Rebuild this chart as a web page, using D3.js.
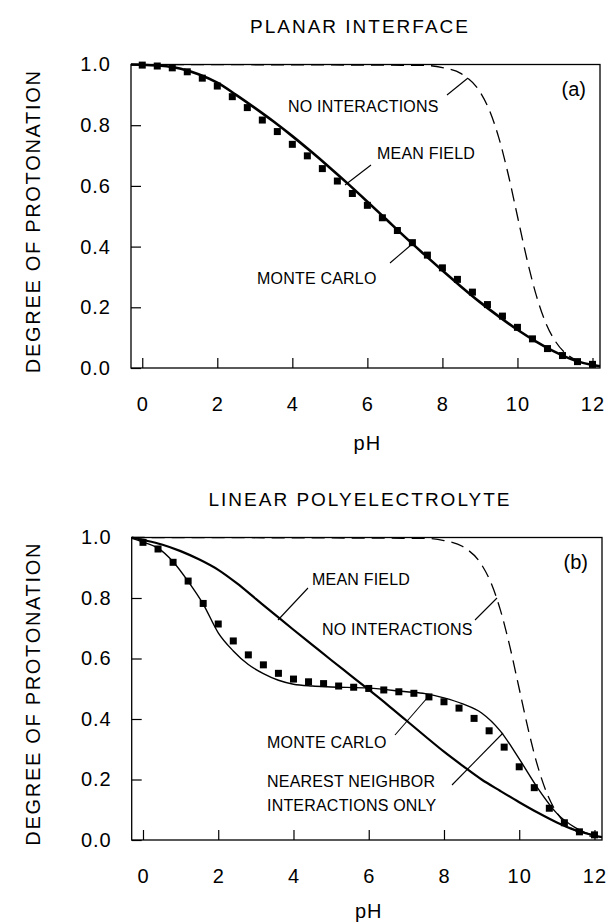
<!DOCTYPE html>
<html>
<head>
<meta charset="utf-8">
<script src="https://cdn.jsdelivr.net/npm/d3@7"></script>
<style>
  body { margin: 0; background: #fff; }
  svg text { font-family: "Liberation Sans", Arial, Helvetica, sans-serif; fill: #000; }
</style>
</head>
<body>
<svg id="chart" width="608" height="924"></svg>
<script>
// pH grid of the Monte Carlo points (same in both panels)
var mcPH = [0, 0.4, 0.8, 1.2, 1.6, 2.0, 2.4, 2.8, 3.2, 3.6, 4.0, 4.4, 4.8, 5.2, 5.6, 6.0,
            6.4, 6.8, 7.2, 7.6, 8.0, 8.4, 8.8, 9.2, 9.6, 10.0, 10.4, 10.8, 11.2, 11.6, 12.0];

// (a) planar interface
var mcA = [0.998, 0.995, 0.989, 0.976, 0.955, 0.929, 0.894, 0.858, 0.817, 0.779, 0.737, 0.699,
           0.657, 0.616, 0.575, 0.536, 0.495, 0.453, 0.413, 0.372, 0.330, 0.292, 0.250, 0.209,
           0.171, 0.134, 0.096, 0.064, 0.041, 0.021, 0.012];
var mfPH_A = [-0.3, 0, 0.5, 1, 1.5, 2, 2.5, 3, 3.5, 4, 4.5, 5, 5.5, 6, 6.5, 7, 7.5, 8, 8.5, 9,
              9.5, 10, 10.5, 11, 11.5, 12, 12.2];
var mfA = [1.0, 0.999, 0.996, 0.987, 0.968, 0.94, 0.9, 0.857, 0.812, 0.764, 0.713, 0.66, 0.605,
           0.548, 0.49, 0.432, 0.376, 0.321, 0.268, 0.217, 0.17, 0.126, 0.087, 0.053, 0.026, 0.01, 0.006];

// no interactions (same curve in both panels)
var niPH = [-0.3, 7.5, 8, 8.5, 9, 9.25, 9.5, 9.75, 10, 10.25, 10.5, 10.75, 11, 11.25, 11.5, 12];
var ni = [1.0, 0.997, 0.99, 0.97, 0.91, 0.85, 0.76, 0.64, 0.5, 0.36, 0.24, 0.15, 0.09, 0.052, 0.03, 0.01];

// (b) linear polyelectrolyte
var mcB = [0.984, 0.962, 0.918, 0.856, 0.782, 0.714, 0.658, 0.612, 0.579, 0.551, 0.532, 0.523,
           0.517, 0.509, 0.505, 0.501, 0.496, 0.490, 0.485, 0.473, 0.457, 0.436, 0.402, 0.361,
           0.307, 0.242, 0.173, 0.105, 0.057, 0.027, 0.017];
var mfPH_B = [-0.3, 0, 0.5, 1, 1.5, 2, 2.5, 3, 3.5, 4, 4.5, 5, 5.5, 6, 6.5, 7, 7.5, 8, 8.5, 9,
              9.5, 10, 10.5, 11, 11.5, 12, 12.2];
var mfB = [1.0, 0.992, 0.977, 0.955, 0.927, 0.893, 0.848, 0.797, 0.746, 0.695, 0.645, 0.595, 0.546,
           0.497, 0.447, 0.395, 0.343, 0.292, 0.245, 0.2, 0.162, 0.125, 0.09, 0.058, 0.032, 0.015, 0.01];
var nnPH = [-0.3, 0, 0.4, 0.8, 1.2, 1.6, 2.0, 2.4, 2.8, 3.2, 3.6, 4.0, 4.5, 5.0, 6.0, 7.0, 7.5,
            8.0, 8.5, 9.0, 9.5, 10.0, 10.5, 11.0, 11.5, 12.0, 12.2];
var nn = [0.997, 0.985, 0.965, 0.92, 0.855, 0.78, 0.685, 0.625, 0.58, 0.55, 0.528, 0.515, 0.509,
          0.506, 0.502, 0.49, 0.484, 0.47, 0.45, 0.42, 0.36, 0.268, 0.17, 0.088, 0.04, 0.014, 0.008];

var xTicks = [0, 2, 4, 6, 8, 10, 12];
var yTicks = [0, 0.2, 0.4, 0.6, 0.8, 1.0];

var svg = d3.select("#chart");

function zip(xs, ys) { return xs.map(function(x, i){ return [x, ys[i]]; }); }

function drawPanel(p) {
  var x = d3.scaleLinear().domain([-0.3, 12.2]).range([p.left, p.right]);
  var y = d3.scaleLinear().domain([0, 1]).range([p.bottom, p.top]);
  var g = svg.append("g");

  // frame
  g.append("rect").attr("x", p.left).attr("y", p.top)
    .attr("width", p.right - p.left).attr("height", p.bottom - p.top)
    .attr("fill", "none").attr("stroke", "#000").attr("stroke-width", 1.3);

  // axes, ticks point inward
  var xAxis = d3.axisBottom(x).tickValues(xTicks).tickSizeInner(-10).tickSizeOuter(0)
    .tickPadding(29).tickFormat(d3.format("d"));
  var gx = g.append("g").attr("transform", "translate(0," + p.bottom + ")").call(xAxis);
  var yAxis = d3.axisLeft(y).tickValues(yTicks).tickSizeInner(-10).tickSizeOuter(0)
    .tickPadding(20).tickFormat(d3.format(".1f"));
  var gy = g.append("g").attr("transform", "translate(" + p.left + ",0)").call(yAxis);
  [gx, gy].forEach(function(a){
    a.select(".domain").remove();
    a.selectAll(".tick line").attr("stroke", "#000").attr("stroke-width", 1.2);
    a.selectAll(".tick text").attr("font-size", 20).attr("letter-spacing", 1)
      .attr("font-family", "Liberation Sans, Arial, sans-serif");
  });

  var line = d3.line().x(function(d){ return x(d[0]); }).y(function(d){ return y(d[1]); })
    .curve(d3.curveMonotoneX);

  g.append("path").datum(zip(niPH, ni)).attr("d", line)
    .attr("fill", "none").attr("stroke", "#000").attr("stroke-width", 1.3)
    .attr("stroke-dasharray", "13,7");
  if (p.nn) {
    g.append("path").datum(zip(nnPH, nn)).attr("d", line)
      .attr("fill", "none").attr("stroke", "#000").attr("stroke-width", 1.4);
  }
  g.append("path").datum(zip(p.mfPH, p.mf)).attr("d", line)
    .attr("fill", "none").attr("stroke", "#000").attr("stroke-width", p.mfWidth);

  var s = 7;
  g.selectAll("rect.mc").data(zip(mcPH, p.mc)).enter().append("rect").attr("class", "mc")
    .attr("x", function(d){ return x(d[0]) - s / 2; })
    .attr("y", function(d){ return y(d[1]) - s / 2; })
    .attr("width", s).attr("height", s).attr("fill", "#000");

  // titles
  svg.append("text").attr("x", 360).attr("y", p.top - 32).attr("text-anchor", "middle")
    .attr("font-size", 19).attr("letter-spacing", 2).text(p.title);
  svg.append("text").attr("transform", "translate(40," + ((p.top + p.bottom) / 2 + 5) + ") rotate(-90)")
    .attr("text-anchor", "middle").attr("font-size", 20).attr("letter-spacing", 1.7)
    .text("DEGREE OF PROTONATION");
  svg.append("text").attr("x", x(6)).attr("y", p.bottom + p.phGap).attr("text-anchor", "middle")
    .attr("font-size", 20).attr("letter-spacing", 1).text("pH");
  svg.append("text").attr("x", p.right - 14).attr("y", p.top + 31).attr("text-anchor", "end")
    .attr("font-size", 20).text(p.tag);

  // annotations with leader lines
  p.notes.forEach(function(n){
    n.lines.forEach(function(t, i){
      svg.append("text").attr("x", n.tx).attr("y", n.ty + i * 24).attr("font-size", 16)
        .attr("letter-spacing", 0.2).text(t);
    });
    svg.append("line").attr("x1", n.l[0]).attr("y1", n.l[1]).attr("x2", n.l[2]).attr("y2", n.l[3])
      .attr("stroke", "#000").attr("stroke-width", 1.1);
  });
}

drawPanel({
  title: "PLANAR INTERFACE", tag: "(a)",
  left: 131, right: 600, top: 64.5, bottom: 368, phGap: 82,
  mc: mcA, mfPH: mfPH_A, mf: mfA, mfWidth: 2.6, nn: false,
  notes: [
    { lines: ["NO INTERACTIONS"], tx: 288, ty: 112, l: [447, 95, 468, 78] },
    { lines: ["MEAN FIELD"], tx: 377, ty: 159, l: [371, 165, 345, 185] },
    { lines: ["MONTE CARLO"], tx: 257, ty: 284, l: [390, 263, 411, 245] }
  ]
});

drawPanel({
  title: "LINEAR  POLYELECTROLYTE", tag: "(b)",
  left: 131.7, right: 602, top: 537.5, bottom: 840, phGap: 78,
  mc: mcB, mfPH: mfPH_B, mf: mfB, mfWidth: 2.2, nn: true,
  notes: [
    { lines: ["MEAN FIELD"], tx: 312, ty: 585, l: [308, 588, 278, 620] },
    { lines: ["NO INTERACTIONS"], tx: 322, ty: 635, l: [475, 620, 497, 598] },
    { lines: ["MONTE CARLO"], tx: 267, ty: 748, l: [395, 735, 428, 697] },
    { lines: ["NEAREST NEIGHBOR", "INTERACTIONS ONLY"], tx: 267, ty: 787, l: [452, 785, 503, 733] }
  ]
});
</script>
</body>
</html>
